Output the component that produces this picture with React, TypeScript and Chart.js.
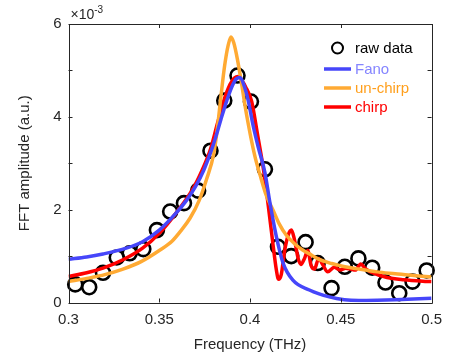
import React, { useEffect, useRef } from "react";
import { Chart, registerables } from "chart.js";

Chart.register(...registerables);

// Raw data (frequency in THz, amplitude in units of 1e-3)
const RAW_F = [0.3037, 0.3114, 0.319, 0.3266, 0.3337, 0.3412, 0.3487, 0.356, 0.3636, 0.3714, 0.3782, 0.3858, 0.3931, 0.4005, 0.4082, 0.4154, 0.4227, 0.4306, 0.4373, 0.4449, 0.4522, 0.4597, 0.4673, 0.4746, 0.4822, 0.4895, 0.4973];
const RAW_A = [0.39, 0.33, 0.64, 0.97, 1.06, 1.15, 1.56, 1.96, 2.14, 2.41, 3.27, 4.35, 4.89, 4.33, 2.87, 1.2, 1.0, 1.3, 0.85, 0.31, 0.77, 0.95, 0.75, 0.43, 0.2, 0.45, 0.69];

// Fano fit
const FANO_F = [0.3, 0.31, 0.319, 0.3318, 0.3408, 0.35, 0.3591, 0.365, 0.37, 0.3745, 0.378, 0.381, 0.384, 0.3872, 0.39, 0.3925, 0.3945, 0.3965, 0.399, 0.4015, 0.4045, 0.4082, 0.411, 0.4145, 0.4182, 0.4236, 0.4327, 0.4437, 0.452, 0.46, 0.47, 0.48, 0.49, 0.5];
const FANO_A = [0.93, 0.98, 1.045, 1.17, 1.31, 1.56, 1.92, 2.2, 2.5, 2.85, 3.2, 3.55, 3.95, 4.35, 4.65, 4.82, 4.85, 4.7, 4.35, 3.85, 3.35, 2.8, 2.14, 1.42, 0.85, 0.48, 0.27, 0.12, 0.06, 0.045, 0.05, 0.06, 0.075, 0.09];

// un-chirp fit
const UNCHIRP_F = [0.3, 0.31, 0.32, 0.33, 0.34, 0.35, 0.357, 0.362, 0.367, 0.372, 0.376, 0.38, 0.382, 0.384, 0.386, 0.388, 0.3895, 0.391, 0.393, 0.395, 0.397, 0.399, 0.401, 0.403, 0.4055, 0.409, 0.4127, 0.416, 0.42, 0.425, 0.429, 0.434, 0.438, 0.445, 0.451, 0.46, 0.47, 0.48, 0.49, 0.5];
const UNCHIRP_A = [0.45, 0.52, 0.6, 0.72, 0.88, 1.12, 1.32, 1.55, 1.82, 2.2, 2.65, 3.2, 3.75, 4.45, 5.1, 5.55, 5.72, 5.6, 5.25, 4.8, 4.3, 3.85, 3.45, 3.1, 2.75, 2.3, 1.99, 1.7, 1.45, 1.25, 1.13, 1.02, 0.93, 0.84, 0.78, 0.72, 0.66, 0.62, 0.58, 0.55];

// chirp fit
const CHIRP_F = [0.3, 0.31, 0.319, 0.33, 0.3408, 0.35, 0.3591, 0.3681, 0.3736, 0.3782, 0.382, 0.3854, 0.389, 0.3915, 0.3934, 0.3955, 0.3975, 0.4009, 0.404, 0.4073, 0.41, 0.4125, 0.4145, 0.4157, 0.4172, 0.419, 0.421, 0.4228, 0.4245, 0.4265, 0.428, 0.43, 0.4318, 0.4336, 0.4355, 0.4378, 0.44, 0.4428, 0.4464, 0.4495, 0.4527, 0.4555, 0.458, 0.461, 0.4635, 0.4664, 0.4755, 0.4846, 0.4973, 0.5];
const CHIRP_A = [0.56, 0.64, 0.74, 0.92, 1.17, 1.49, 1.92, 2.42, 2.85, 3.3, 3.85, 4.33, 4.7, 4.84, 4.87, 4.78, 4.65, 4.33, 3.65, 2.89, 2.1, 1.3, 0.7, 0.5, 0.6, 1.1, 1.45, 1.56, 1.35, 0.95, 0.82, 0.95, 1.12, 0.8, 0.72, 0.95, 0.82, 0.66, 0.76, 0.7, 0.74, 0.72, 0.7, 0.83, 0.73, 0.66, 0.54, 0.49, 0.455, 0.45];

const X_TICKS = [0.3, 0.35, 0.4, 0.45, 0.5];
const Y_TICKS = [0, 1, 2, 3, 4, 5, 6];
const Y_LABELED = [0, 2, 4, 6];

const BLUE = "#4646FA";
const ORANGE = "#FFAA33";
const RED = "#FF0000";
const AXIS = "#262626";
const FONT = "'Liberation Sans', Arial, Helvetica, sans-serif";

const zip = (xs: number[], ys: number[]) => xs.map((x, i) => ({ x, y: ys[i] }));

const framePlugin = {
  id: "frame",
  afterDatasetsDraw(chart: any) {
    const { ctx, chartArea: a, scales } = chart;
    const xs = scales.x;
    const ys = scales.y;
    ctx.save();
    ctx.strokeStyle = AXIS;
    ctx.lineWidth = 1;
    ctx.beginPath();
    ctx.rect(Math.round(a.left) + 0.5, Math.round(a.top) + 0.5, Math.round(a.right - a.left), Math.round(a.bottom - a.top));
    ctx.stroke();
    const tl = 4;
    ctx.beginPath();
    X_TICKS.forEach((v) => {
      const px = Math.round(xs.getPixelForValue(v)) + 0.5;
      ctx.moveTo(px, a.bottom);
      ctx.lineTo(px, a.bottom - tl);
      ctx.moveTo(px, a.top);
      ctx.lineTo(px, a.top + tl);
    });
    Y_TICKS.forEach((v) => {
      const py = Math.round(ys.getPixelForValue(v)) + 0.5;
      ctx.moveTo(a.left, py);
      ctx.lineTo(a.left + tl, py);
      ctx.moveTo(a.right, py);
      ctx.lineTo(a.right - tl, py);
    });
    ctx.stroke();

    // exponent label
    ctx.fillStyle = AXIS;
    ctx.textBaseline = "alphabetic";
    ctx.textAlign = "left";
    ctx.font = `14px ${FONT}`;
    const ex = a.left + 2;
    const ey = a.top - 5;
    ctx.fillText("\u00d710", ex, ey);
    const w = ctx.measureText("\u00d710").width;
    ctx.font = `10px ${FONT}`;
    ctx.fillText("-3", ex + w, ey - 6);

    // legend
    const lx0 = 324;
    const lx1 = 351;
    const tx = 355;
    const rows = [
      { y: 48, kind: "circle", label: "raw data", color: "#000000", tcolor: "#000000" },
      { y: 69, kind: "line", label: "Fano", color: BLUE, tcolor: "#8585FF" },
      { y: 88, kind: "line", label: "un-chirp", color: ORANGE, tcolor: "#FF9F1C" },
      { y: 107, kind: "line", label: "chirp", color: RED, tcolor: "#FF0000" },
    ];
    ctx.font = `15px ${FONT}`;
    ctx.textBaseline = "middle";
    rows.forEach((r) => {
      if (r.kind === "circle") {
        ctx.beginPath();
        ctx.lineWidth = 2;
        ctx.strokeStyle = r.color;
        ctx.arc(337.5, r.y, 5.5, 0, Math.PI * 2);
        ctx.stroke();
      } else {
        ctx.beginPath();
        ctx.lineWidth = 3.5;
        ctx.strokeStyle = r.color;
        ctx.moveTo(lx0, r.y);
        ctx.lineTo(lx1, r.y);
        ctx.stroke();
      }
      ctx.fillStyle = r.tcolor;
      ctx.fillText(r.label, tx, r.y + 1);
    });
    ctx.restore();
  },
};

export default function App() {
  const ref = useRef<HTMLCanvasElement | null>(null);
  useEffect(() => {
    document.body.style.margin = "0";
    const canvas = ref.current;
    if (!canvas) return;
    const lineDs = (label: string, xs: number[], ys: number[], color: string) => ({
      type: "line" as const,
      label,
      data: zip(xs, ys),
      borderColor: color,
      backgroundColor: color,
      borderWidth: 3.5,
      pointRadius: 0,
      showLine: true,
      fill: false,
      tension: 0.4,
      cubicInterpolationMode: "monotone" as const,
    });
    const chart = new Chart(canvas, {
      type: "scatter",
      data: {
        datasets: [
          lineDs("Fano", FANO_F, FANO_A, BLUE),
          lineDs("un-chirp", UNCHIRP_F, UNCHIRP_A, ORANGE),
          lineDs("chirp", CHIRP_F, CHIRP_A, RED),
          {
            type: "scatter",
            label: "raw data",
            data: zip(RAW_F, RAW_A),
            pointRadius: 7,
            pointBorderWidth: 2.6,
            pointBorderColor: "#000000",
            pointBackgroundColor: "rgba(0,0,0,0)",
            showLine: false,
            clip: false as any,
          } as any,
        ],
      },
      options: {
        animation: false,
        responsive: false,
        maintainAspectRatio: false,
        layout: { padding: { left: 0, right: 15, top: 24, bottom: 0 } },
        plugins: { legend: { display: false }, tooltip: { enabled: false } },
        scales: {
          x: {
            type: "linear",
            min: 0.3,
            max: 0.5,
            afterBuildTicks: (s: any) => {
              s.ticks = X_TICKS.map((v) => ({ value: v }));
            },
            afterFit: (s: any) => {
              s.height = 55.5;
            },
            grid: { display: false, drawTicks: false },
            border: { display: false },
            ticks: {
              color: AXIS,
              font: { family: FONT, size: 15 },
              padding: 8,
              maxRotation: 0,
              autoSkip: false,
              callback: (v: any) => String(Number(Number(v).toFixed(3))),
            },
            title: {
              display: true,
              text: "Frequency (THz)",
              color: AXIS,
              font: { family: FONT, size: 15 },
              padding: { top: 2, bottom: 4 },
            },
          },
          y: {
            type: "linear",
            min: 0,
            max: 6,
            afterBuildTicks: (s: any) => {
              s.ticks = Y_LABELED.map((v) => ({ value: v }));
            },
            afterFit: (s: any) => {
              s.width = 68.5;
            },
            grid: { display: false, drawTicks: false },
            border: { display: false },
            ticks: {
              color: AXIS,
              font: { family: FONT, size: 15 },
              padding: 7,
              autoSkip: false,
              callback: (v: any) => String(v),
            },
            title: {
              display: true,
              text: "FFT amplitude (a.u.)",
              color: AXIS,
              font: { family: FONT, size: 15 },
              padding: { top: 16, bottom: 0 },
            },
          },
        },
      },
      plugins: [framePlugin],
    });
    return () => chart.destroy();
  }, []);
  return (
    <div style={{ width: 450, height: 358, background: "#fff" }}>
      <canvas ref={ref} width={450} height={358} style={{ display: "block" }} />
    </div>
  );
}
